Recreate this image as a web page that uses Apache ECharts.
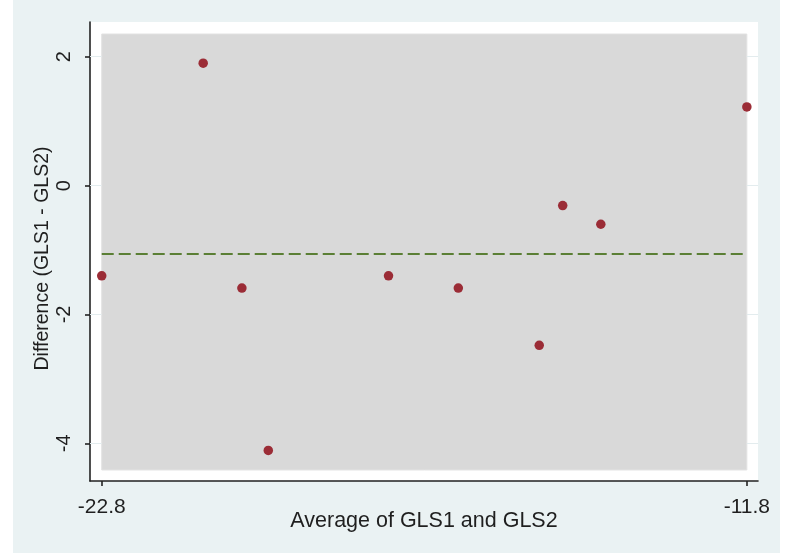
<!DOCTYPE html>
<html><head><meta charset="utf-8">
<script src="https://cdn.jsdelivr.net/npm/echarts@6/dist/echarts.min.js"></script>
<style>
html,body{margin:0;padding:0;background:#ffffff;width:787px;height:553px;overflow:hidden}
#c{position:absolute;left:13px;top:0;width:767px;height:553px;}
</style>
</head><body><div id="c"></div>
<script>
// ---- data ----
const avgValues  = [-22.8, -21.07, -20.41, -19.96, -17.91, -16.72, -15.34, -14.94, -14.29, -11.8];
const diffValues = [-1.40, 1.90, -1.59, -4.11, -1.40, -1.59, -2.48, -0.31, -0.60, 1.22];
const meanDiff = -1.06;
const xTicks = [-22.8, -11.8];
const yTicks = [-4, -2, 0, 2];
const xTitle = 'Average of GLS1 and GLS2';
const yTitle = 'Difference (GLS1 - GLS2)';

// ---- build ----
const points = avgValues.map((x, i) => [x, diffValues[i]]);
const xLo = Math.min(...avgValues), xHi = Math.max(...avgValues);
const xMin = -23.0, xMax = -11.61, yMin = -4.585, yMax = 2.539;
const font = '"Liberation Sans", Arial, sans-serif';
const textColor = '#1f1f1f';

const gridSegs = [];
yTicks.forEach(v => {
  gridSegs.push([{coord: [xMin, v]}, {coord: [xLo, v]}]);
  gridSegs.push([{coord: [xHi, v]}, {coord: [xMax, v]}]);
});

const chart = echarts.init(document.getElementById('c'), null, {renderer: 'canvas'});
chart.setOption({
  backgroundColor: '#eaf2f3',
  animation: false,
  grid: {
    left: 77, right: 22, top: 22, bottom: 72,
    show: true, backgroundColor: '#ffffff', borderWidth: 0
  },
  xAxis: {
    type: 'value', min: xMin, max: xMax,
    name: xTitle, nameLocation: 'middle', nameGap: 29, nameMoveOverlap: false,
    nameTextStyle: {fontFamily: font, fontSize: 21.5, color: textColor},
    axisLine: {show: true, onZero: false, lineStyle: {color: '#222', width: 1.6}},
    axisTick: {show: true, customValues: xTicks, length: 5, lineStyle: {color: '#222', width: 1.6}},
    axisLabel: {show: true, customValues: xTicks, margin: 16, fontFamily: font, fontSize: 21, color: textColor,
      formatter: v => v.toFixed(1)},
    splitLine: {show: false}
  },
  yAxis: {
    type: 'value', min: yMin, max: yMax,
    name: yTitle, nameLocation: 'middle', nameGap: 37, nameMoveOverlap: false,
    nameTextStyle: {fontFamily: font, fontSize: 19.5, color: textColor, padding: [0, 14, 0, 0]},
    axisLine: {show: true, onZero: false, lineStyle: {color: '#222', width: 1.6}},
    axisTick: {show: true, customValues: yTicks, length: 5, lineStyle: {color: '#222', width: 1.6}},
    axisLabel: {show: true, customValues: yTicks, rotate: 90, margin: 15.5, fontFamily: font, fontSize: 20, color: textColor},
    splitLine: {show: false}
  },
  series: [
    {
      type: 'scatter', data: [], silent: true, z: 1,
      markLine: {
        silent: true, symbol: ['none', 'none'], label: {show: false},
        lineStyle: {color: '#e3ecee', width: 1, type: 'solid'},
        data: gridSegs
      }
    },
    {
      type: 'scatter', data: [], silent: true, z: 2,
      markArea: {
        silent: true, label: {show: false},
        itemStyle: {color: '#d9d9d9', borderColor: '#e2e2e2', borderWidth: 1},
        data: [[{coord: [xLo, -4.414]}, {coord: [xHi, 2.352]}]]
      }
    },
    {
      type: 'scatter', data: points, z: 5,
      symbol: 'circle', symbolSize: 9.5,
      itemStyle: {color: '#9b2c36', opacity: 1},
      clip: false,
      markLine: {
        silent: true, symbol: ['none', 'none'], label: {show: false},
        lineStyle: {color: '#5b7f35', width: 2.2, type: [12, 5]},
        data: [[{coord: [xLo, meanDiff]}, {coord: [xHi, meanDiff]}]]
      }
    }
  ]
});
</script>
</body></html>
